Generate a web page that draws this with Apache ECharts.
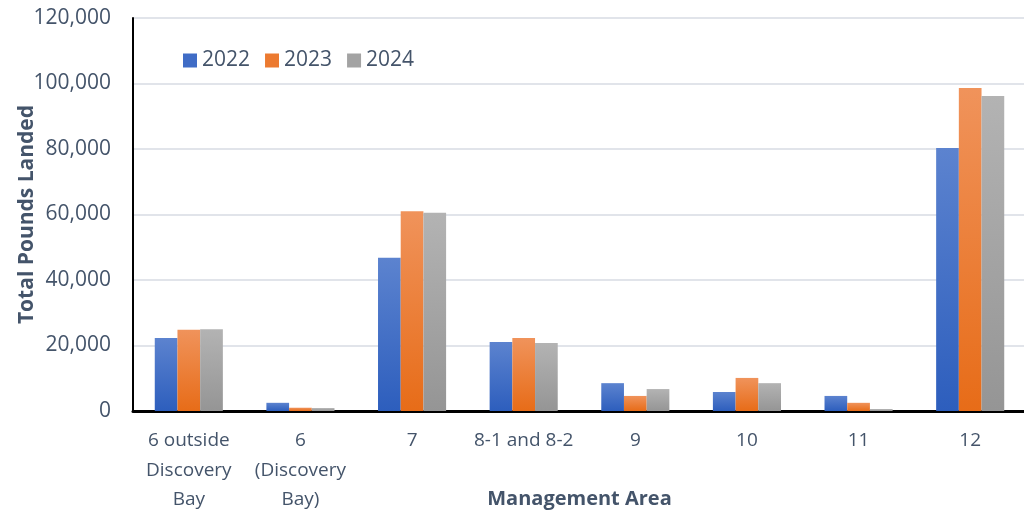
<!DOCTYPE html>
<html>
<head>
<meta charset="utf-8">
<script src="https://cdn.jsdelivr.net/npm/echarts@6/dist/echarts.min.js"></script>
<style>
html, body { margin: 0; padding: 0; background: #fff; }
#chart { width: 1024px; height: 519px; }
</style>
</head>
<body>
<div id="chart"></div>
<script>
// categories and landings per year
var areas = ['6 outside\nDiscovery\nBay', '6\n(Discovery\nBay)', '7', '8-1 and 8-2', '9', '10', '11', '12']
var years = ['2022', '2023', '2024']
var lbs2022 = [22300, 2500, 46800, 21100, 8500, 5800, 4600, 80300]
var lbs2023 = [24800, 1000, 61000, 22300, 4600, 10100, 2500, 98600]
var lbs2024 = [25000, 900, 60500, 20800, 6700, 8500, 600, 96200]

var textColor = '#44546a'
var fontFam = 'Open Sans, Lato, sans-serif'

function grad(top, bottom) {
  return new echarts.graphic.LinearGradient(0, 0, 0, 1, [
    { offset: 0, color: top },
    { offset: 1, color: bottom }
  ])
}

var chart = echarts.init(document.getElementById('chart'))
var option = {
  animation: false,
  textStyle: { fontFamily: fontFam },
  legend: {
    data: [
      { name: years[0], itemStyle: { color: '#3f6cc6' } },
      { name: years[1], itemStyle: { color: '#ec7a30' } },
      { name: years[2], itemStyle: { color: '#a3a3a3' } }
    ],
    left: 178,
    top: 45,
    itemWidth: 14,
    itemHeight: 14,
    itemGap: 15,
    icon: 'rect',
    textStyle: { color: textColor, fontSize: 21, fontFamily: fontFam }
  },
  grid: {
    left: 133,
    right: -2,
    top: 18,
    bottom: 108,
    outerBoundsMode: 'none'
  },
  xAxis: {
    type: 'category',
    data: areas,
    name: 'Management Area',
    nameLocation: 'middle',
    nameGap: 78,
    nameMoveOverlap: false,
    nameTextStyle: { color: textColor, fontSize: 20, fontWeight: 'bold', fontFamily: fontFam },
    axisLine: { lineStyle: { color: '#000', width: 3 } },
    axisTick: { show: false },
    axisLabel: { color: textColor, fontSize: 19, lineHeight: 29.5, margin: 15, interval: 0, fontFamily: fontFam }
  },
  yAxis: {
    type: 'value',
    min: 0,
    max: 120000,
    interval: 20000,
    name: 'Total Pounds Landed',
    nameLocation: 'middle',
    nameGap: 95,
    nameMoveOverlap: false,
    nameTextStyle: { color: textColor, fontSize: 21, fontWeight: 'bold', fontFamily: fontFam },
    axisLine: { show: true, lineStyle: { color: '#000', width: 2 } },
    axisTick: { show: false },
    splitLine: { lineStyle: { color: '#e1e4ea', width: 2 } },
    axisLabel: {
      color: textColor,
      fontSize: 21,
      margin: 22,
      fontFamily: fontFam,
      formatter: function(v) { return v.toLocaleString('en-US') }
    }
  },
  series: [
    {
      name: years[0],
      type: 'bar',
      barGap: 0,
      barCategoryGap: '39%',
      itemStyle: { color: grad('#5c83cf', '#2d5ebd') },
      data: lbs2022
    },
    {
      name: years[1],
      type: 'bar',
      itemStyle: { color: grad('#f0935b', '#e76c18') },
      data: lbs2023
    },
    {
      name: years[2],
      type: 'bar',
      itemStyle: { color: grad('#b3b3b3', '#959595') },
      data: lbs2024
    }
  ]
}
chart.setOption(option)
</script>
</body>
</html>
